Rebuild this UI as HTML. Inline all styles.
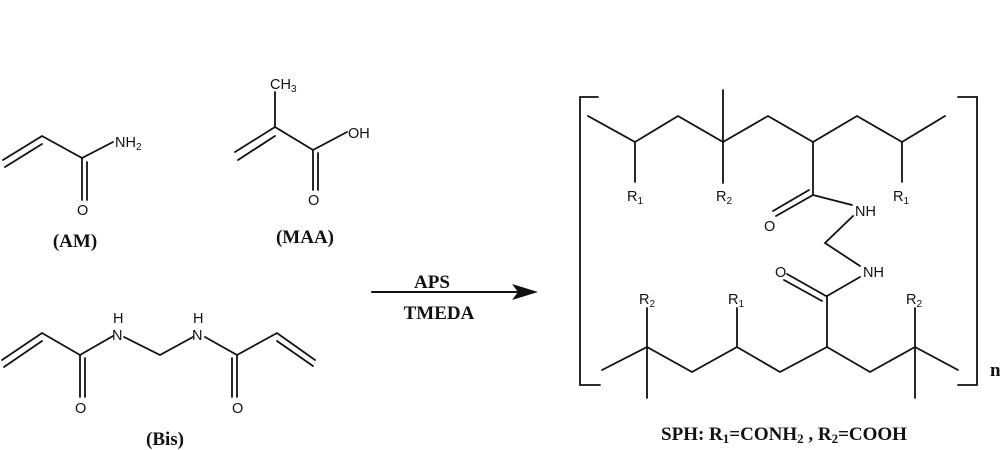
<!DOCTYPE html>
<html><head><meta charset="utf-8"><style>
html,body{margin:0;padding:0;background:#fff;}
svg{display:block}
.s{font-family:"Liberation Sans",Arial,sans-serif;font-size:14.5px;fill:#111}
.b{font-family:"Liberation Serif",serif;font-weight:bold;font-size:19px;fill:#111}
</style></head><body>
<svg width="1000" height="450" viewBox="0 0 1000 450" xmlns="http://www.w3.org/2000/svg">
<g stroke="#111" stroke-width="1.8" fill="none" stroke-linecap="round">
<!-- AM -->
<polyline points="3,160 42,136 82,158 113,142"/>
<line x1="5" y1="167" x2="42" y2="144"/>
<line x1="82" y1="158" x2="82" y2="200"/>
<line x1="87" y1="162" x2="87" y2="200"/>
<!-- MAA -->
<polyline points="235,152 275,127 313,150 347,132"/>
<line x1="238" y1="160" x2="275" y2="136"/>
<line x1="275" y1="127" x2="275" y2="92"/>
<line x1="313" y1="150" x2="313" y2="190"/>
<line x1="318" y1="153" x2="318" y2="190"/>
<!-- Bis -->
<polyline points="2,360 42,333 80,355 113,336"/>
<line x1="4" y1="367" x2="42" y2="341"/>
<line x1="80" y1="355" x2="80" y2="397"/>
<line x1="85" y1="358" x2="85" y2="397"/>
<polyline points="124,337 160,355 193,337"/>
<polyline points="205,337 237,355 277,333 315,360"/>
<line x1="277" y1="341" x2="313" y2="366"/>
<line x1="237" y1="355" x2="237" y2="397"/>
<line x1="232" y1="358" x2="232" y2="397"/>
<!-- arrow -->
<line x1="372" y1="292" x2="520" y2="292" stroke-width="2"/>
<!-- brackets -->
<polyline points="598,97 580,97 580,385 600,385"/>
<polyline points="958,97 977,97 977,385 958,385"/>
<!-- top chain -->
<polyline points="588,116 635,142 678,116 723,142 768,116 813,142 857,116 902,142 945,116"/>
<line x1="723" y1="90" x2="723" y2="183"/>
<line x1="635" y1="142" x2="635" y2="182"/>
<line x1="902" y1="142" x2="902" y2="182"/>
<line x1="813" y1="142" x2="813" y2="195"/>
<line x1="813" y1="195" x2="776" y2="216"/>
<line x1="809" y1="190" x2="773" y2="211"/>
<line x1="813" y1="195" x2="852" y2="205"/>
<polyline points="853,216 825,243 860,266"/>
<!-- bottom -->
<line x1="826" y1="296" x2="787" y2="274"/>
<line x1="822" y1="301" x2="784" y2="280"/>
<line x1="827" y1="296" x2="860" y2="277"/>
<line x1="827" y1="296" x2="827" y2="347"/>
<polyline points="602,370 647,347 692,372 737,347 780,372 827,347 870,372 915,347 958,370"/>
<line x1="647" y1="308" x2="647" y2="398"/>
<line x1="737" y1="308" x2="737" y2="347"/>
<line x1="915" y1="308" x2="915" y2="398"/>
</g>
<polygon points="538,292 512,284 518,292 512,300" fill="#111"/>
<g class="s">
<text x="115" y="147">NH<tspan font-size="10" dy="3">2</tspan></text>
<text x="77" y="215">O</text>
<text x="270" y="89">CH<tspan font-size="10" dy="3">3</tspan></text>
<text x="348" y="138">OH</text>
<text x="308" y="205">O</text>
<text x="113" y="323">H</text>
<text x="112" y="340">N</text>
<text x="193" y="323">H</text>
<text x="192" y="340">N</text>
<text x="75" y="413">O</text>
<text x="232" y="413">O</text>
<text x="627" y="201">R<tspan font-size="10" dy="3">1</tspan></text>
<text x="716" y="201">R<tspan font-size="10" dy="3">2</tspan></text>
<text x="893" y="201">R<tspan font-size="10" dy="3">1</tspan></text>
<text x="855" y="216">NH</text>
<text x="764" y="231">O</text>
<text x="863" y="277">NH</text>
<text x="775" y="277">O</text>
<text x="639" y="304">R<tspan font-size="10" dy="3">2</tspan></text>
<text x="728" y="304">R<tspan font-size="10" dy="3">1</tspan></text>
<text x="906" y="304">R<tspan font-size="10" dy="3">2</tspan></text>
</g>
<g class="b">
<text x="75" y="247" text-anchor="middle">(AM)</text>
<text x="305" y="243" text-anchor="middle">(MAA)</text>
<text x="165" y="445" text-anchor="middle">(Bis)</text>
<text x="432" y="288" text-anchor="middle">APS</text>
<text x="439" y="319" text-anchor="middle">TMEDA</text>
<text x="990" y="376">n</text>
<text x="784" y="440" text-anchor="middle">SPH: R<tspan font-size="13" dy="3">1</tspan><tspan dy="-3">=CONH</tspan><tspan font-size="13" dy="3">2</tspan><tspan dy="-3"> , R</tspan><tspan font-size="13" dy="3">2</tspan><tspan dy="-3">=COOH</tspan></text>
</g>
</svg>
</body></html>
